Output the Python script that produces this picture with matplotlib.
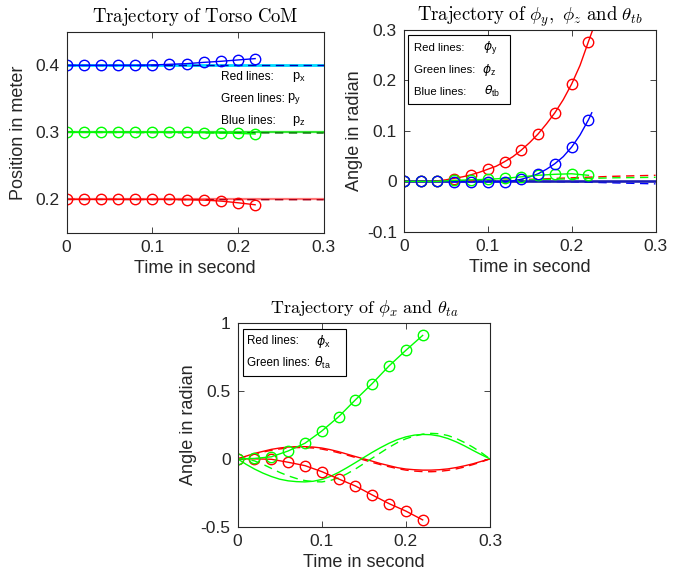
import matplotlib
matplotlib.use("Agg")
import matplotlib.pyplot as plt
from matplotlib.patches import Rectangle

plt.rcParams['font.family'] = ['Liberation Sans', 'DejaVu Sans']
plt.rcParams['mathtext.fontset'] = 'cm'

# ---------------- data ----------------
t_circ = [0.00, 0.02, 0.04, 0.06, 0.08, 0.10, 0.12, 0.14, 0.16, 0.18, 0.20, 0.22]
t_fine = [0.00, 0.01, 0.02, 0.03, 0.04, 0.05, 0.06, 0.07, 0.08, 0.09, 0.10,
          0.11, 0.12, 0.13, 0.14, 0.15, 0.16, 0.17, 0.18, 0.19, 0.20,
          0.21, 0.22, 0.23, 0.24, 0.25, 0.26, 0.27, 0.28, 0.29, 0.30]
t_ends = [0.0, 0.3]

# Torso CoM
px_circ = [0.200, 0.200, 0.200, 0.200, 0.200, 0.200, 0.200, 0.1995, 0.199, 0.1975, 0.195, 0.192]
py_circ = [0.300, 0.300, 0.300, 0.300, 0.300, 0.300, 0.300, 0.300, 0.2995, 0.299, 0.2985, 0.2975]
pz_circ = [0.400, 0.400, 0.400, 0.400, 0.400, 0.4005, 0.4015, 0.4025, 0.4044, 0.406, 0.408, 0.410]
px_ref = [0.200, 0.200]
py_ref = [0.300, 0.300]
pz_ref = [0.400, 0.400]
px_dash = [0.200, 0.1995]
py_dash = [0.300, 0.299]
pz_dash = [0.400, 0.400]

# phi_y, phi_z, theta_tb
t_phiy_line = [0.00, 0.02, 0.04, 0.05, 0.06, 0.07, 0.08, 0.09, 0.10, 0.11, 0.12, 0.13, 0.14,
               0.15, 0.16, 0.17, 0.18, 0.19, 0.20, 0.21, 0.22, 0.225]
phiy_line = [0.000, 0.000, 0.001, 0.003, 0.006, 0.009, 0.013, 0.018, 0.024, 0.030, 0.039, 0.049,
             0.062, 0.077, 0.094, 0.114, 0.136, 0.162, 0.193, 0.230, 0.277, 0.300]
phiy_circ = [0.000, 0.000, 0.000, 0.005, 0.0125, 0.024, 0.038, 0.062, 0.094, 0.136, 0.193, 0.277]
t_thtb_line = [0.00, 0.02, 0.04, 0.06, 0.08, 0.10, 0.12, 0.13, 0.14, 0.15, 0.16, 0.17, 0.18,
               0.19, 0.20, 0.21, 0.22, 0.224]
thtb_line = [0.000, 0.000, 0.000, -0.001, -0.001, -0.001, -0.001, 0.001, 0.004, 0.009, 0.015,
             0.024, 0.035, 0.049, 0.068, 0.092, 0.122, 0.136]
thtb_circ = [0.000, 0.000, 0.000, -0.001, -0.001, -0.002, -0.001, 0.004, 0.015, 0.035, 0.068, 0.122]
phiz_circ = [0.000, 0.000, 0.000, 0.002, 0.003, 0.004, 0.006, 0.009, 0.012, 0.014, 0.015, 0.012]
t_dash2 = [0.00, 0.05, 0.10, 0.15, 0.20, 0.25, 0.30]
phiy_dash = [0.000, 0.000, 0.001, 0.004, 0.007, 0.010, 0.012]
phiz_dash = [0.000, 0.000, 0.001, 0.003, 0.005, 0.007, 0.008]
thtb_dash = [0.000, 0.000, 0.000, 0.000, -0.001, -0.003, -0.005]
zero_ref = [0.0, 0.0]

# phi_x, theta_ta
phix_circ = [0.000, 0.000, -0.003, -0.025, -0.050, -0.094, -0.148, -0.200, -0.266, -0.330, -0.385, -0.450]
thta_circ = [0.000, 0.003, 0.015, 0.058, 0.115, 0.205, 0.310, 0.435, 0.555, 0.685, 0.800, 0.910]
phix_ref = [0.000, 0.020, 0.040, 0.055, 0.070, 0.080, 0.087, 0.090, 0.090, 0.087, 0.080,
            0.068, 0.053, 0.035, 0.017, 0.000, -0.017, -0.035, -0.050, -0.065, -0.075,
            -0.080, -0.083, -0.083, -0.080, -0.074, -0.064, -0.051, -0.036, -0.018, 0.000]
phix_dash = [0.000, 0.018, 0.035, 0.050, 0.063, 0.073, 0.080, 0.083, 0.083, 0.080, 0.072,
             0.060, 0.045, 0.028, 0.010, -0.008, -0.026, -0.043, -0.058, -0.072, -0.083,
             -0.090, -0.094, -0.095, -0.092, -0.085, -0.074, -0.060, -0.042, -0.022, 0.000]
thta_ref = [0.000, -0.040, -0.075, -0.105, -0.130, -0.150, -0.162, -0.168, -0.170, -0.165, -0.152,
            -0.130, -0.100, -0.065, -0.028, 0.010, 0.048, 0.083, 0.115, 0.142, 0.162,
            0.175, 0.180, 0.178, 0.168, 0.150, 0.125, 0.095, 0.062, 0.030, 0.000]
thta_dash = [0.000, -0.003, -0.015, -0.040, -0.070, -0.100, -0.125, -0.145, -0.160, -0.168, -0.170,
             -0.160, -0.140, -0.110, -0.075, -0.035, 0.005, 0.045, 0.085, 0.120, 0.148,
             0.168, 0.182, 0.188, 0.185, 0.172, 0.150, 0.120, 0.085, 0.045, 0.000]

RED, GREEN, BLUE = (1, 0, 0), (0, 1, 0), (0, 0, 1)
MS = 7.5
LW = 1.0
TXT = '#262626'

fig = plt.figure(figsize=(6.8, 5.78), dpi=100)
ax1 = fig.add_axes([0.098, 0.597, 0.378, 0.348])
ax2 = fig.add_axes([0.594, 0.599, 0.370, 0.349])
ax3 = fig.add_axes([0.3495, 0.0888, 0.371, 0.352])


def style(ax, ylim, yticks, yticklabels):
    ax.set_xlim(0, 0.3)
    ax.set_ylim(*ylim)
    ax.set_xticks([0, 0.1, 0.2, 0.3])
    ax.set_xticklabels(['0', '0.1', '0.2', '0.3'])
    ax.set_yticks(yticks)
    ax.set_yticklabels(yticklabels)
    ax.tick_params(direction='in', length=4, width=0.6, labelsize=12.5, colors=TXT,
                   top=True, right=True, pad=5)
    for s in ax.spines.values():
        s.set_linewidth(0.8)
        s.set_color(TXT)
    ax.set_xlabel('Time in second', fontsize=13, color=TXT, labelpad=4)


def circ(ax, x, y, c):
    ax.plot(x, y, '-', color=c, lw=LW, marker='o', ms=MS, mfc='none', mec=c, mew=1.0)


def legend_rows(ax, labels, syms, ys, xl, xs, fs, box=None):
    if box is not None:
        ax.add_patch(Rectangle(box[:2], box[2], box[3], transform=ax.transAxes,
                               facecolor='white', edgecolor='black', lw=0.8, zorder=5))
    for lab, sym, yy, xx in zip(labels, syms, ys, xs):
        ax.text(xl, yy, lab, transform=ax.transAxes, fontsize=fs, va='center', ha='left', zorder=6)
        ax.text(xx, yy, sym, transform=ax.transAxes, fontsize=fs + 0.7, va='center', ha='left',
                zorder=6, math_fontfamily='dejavusans')


# ----- Torso CoM -----
ax1.plot(t_ends, px_ref, '-', color=(1, 0.45, 0.45), lw=1.6)
ax1.plot(t_ends, px_dash, '--', color=(0.65, 0, 0.1), lw=1.0, dashes=(6, 4))
ax1.plot(t_ends, py_ref, '-', color=(0.2, 0.9, 0.2), lw=1.6)
ax1.plot(t_ends, py_dash, '--', color=(0, 0.45, 0), lw=1.0, dashes=(6, 4))
ax1.plot(t_ends, pz_ref, '-', color=(0, 0.85, 1), lw=2.0)
ax1.plot(t_ends, pz_dash, '--', color=(0, 0, 0.7), lw=1.0, dashes=(6, 4))
circ(ax1, t_circ, px_circ, RED)
circ(ax1, t_circ, py_circ, GREEN)
circ(ax1, t_circ, pz_circ, BLUE)
style(ax1, (0.15, 0.45), [0.2, 0.3, 0.4], ['0.2', '0.3', '0.4'])
ax1.set_ylabel('Position in meter', fontsize=13, color=TXT, labelpad=6)
ax1.set_title(r'$\mathrm{Trajectory\ of\ Torso\ CoM}$', fontsize=13.5, math_fontfamily='cm', pad=7)
tl_labels = ['Red lines:', 'Green lines:', 'Blue lines:']
tl_syms = [r'p$_\mathregular{x}$', r'p$_\mathregular{y}$', r'p$_\mathregular{z}$']
legend_rows(ax1, tl_labels, tl_syms, [0.776, 0.667, 0.557], 0.602, [0.876, 0.858, 0.876], 8.6)

# ----- phi_y, phi_z, theta_tb -----
ax2.plot(t_ends, zero_ref, '-', color=RED, lw=LW)
ax2.plot(t_ends, zero_ref, '-', color=GREEN, lw=LW)
ax2.plot(t_dash2, phiy_dash, '--', color=RED, lw=LW, dashes=(6, 4))
ax2.plot(t_dash2, phiz_dash, '--', color=GREEN, lw=LW, dashes=(6, 4))
ax2.plot(t_dash2, thtb_dash, '--', color=BLUE, lw=LW, dashes=(6, 4))
ax2.plot(t_ends, zero_ref, '-', color=(0.1, 0.1, 0.75), lw=1.8)
ax2.plot(t_phiy_line, phiy_line, '-', color=RED, lw=LW)
ax2.plot(t_thtb_line, thtb_line, '-', color=BLUE, lw=LW)
ax2.plot(t_circ, phiy_circ, 'o', ms=MS, mfc='none', mec=RED, mew=1.0)
circ(ax2, t_circ, phiz_circ, GREEN)
ax2.plot(t_circ, thtb_circ, 'o', ms=MS, mfc='none', mec=BLUE, mew=1.0)
style(ax2, (-0.1, 0.3), [-0.1, 0, 0.1, 0.2, 0.3], ['-0.1', '0', '0.1', '0.2', '0.3'])
ax2.set_ylabel('Angle in radian', fontsize=13, color=TXT, labelpad=3)
ax2.set_title(r'$\mathrm{Trajectory\ of\ }\phi_y\mathrm{,\ }\phi_z\mathrm{\ and\ }\theta_{tb}$',
              fontsize=13.5, math_fontfamily='cm', pad=7)
tr_syms = [r'$\phi_\mathregular{y}$', r'$\phi_\mathregular{z}$', r'$\theta_\mathregular{tb}$']
legend_rows(ax2, tl_labels, tr_syms, [0.913, 0.804, 0.695], 0.04, [0.314, 0.310, 0.318], 8.2,
            box=(0.016, 0.634, 0.404, 0.341))

# ----- phi_x, theta_ta -----
ax3.plot(t_fine, phix_ref, '-', color=RED, lw=LW)
ax3.plot(t_fine, phix_dash, '--', color=RED, lw=LW, dashes=(6, 4))
ax3.plot(t_fine, thta_ref, '-', color=GREEN, lw=LW)
ax3.plot(t_fine, thta_dash, '--', color=GREEN, lw=LW, dashes=(6, 4))
circ(ax3, t_circ, phix_circ, RED)
circ(ax3, t_circ, thta_circ, GREEN)
style(ax3, (-0.5, 1.0), [-0.5, 0, 0.5, 1.0], ['-0.5', '0', '0.5', '1'])
ax3.set_ylabel('Angle in radian', fontsize=13, color=TXT, labelpad=3)
ax3.set_title(r'$\mathrm{Trajectory\ of\ }\phi_x\mathrm{\ and\ }\theta_{ta}$',
              fontsize=13, math_fontfamily='cm', pad=7)
b_labels = ['Red lines:', 'Green lines:']
b_syms = [r'$\phi_\mathregular{x}$', r'$\theta_\mathregular{ta}$']
legend_rows(ax3, b_labels, b_syms, [0.912, 0.805], 0.038, [0.312, 0.303], 8.4,
            box=(0.02, 0.741, 0.408, 0.229))

fig.savefig('out.png', dpi=100)
